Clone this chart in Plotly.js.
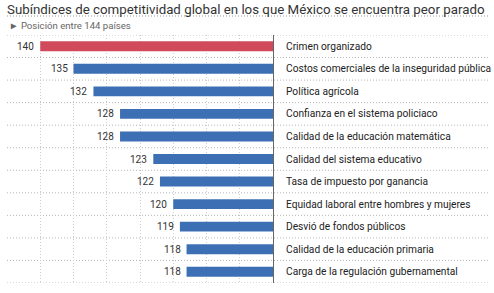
<!DOCTYPE html>
<html><head><meta charset="utf-8">
<script src="https://cdn.plot.ly/plotly-3.0.1.min.js"></script>
<style>html,body{margin:0;padding:0;background:#fff}#c{width:494px;height:293px}</style>
</head><body><div id="c"></div>
<script>
const categories = [
  "Crimen organizado",
  "Costos comerciales de la inseguridad pública",
  "Política agrícola",
  "Confianza en el sistema policiaco",
  "Calidad de la educación matemática",
  "Calidad del sistema educativo",
  "Tasa de impuesto por ganancia",
  "Equidad laboral entre hombres y mujeres",
  "Desvió de fondos públicos",
  "Calidad de la educación primaria",
  "Carga de la regulación gubernamental"
];
const positions = [140, 135, 132, 128, 128, 123, 122, 120, 119, 118, 118];
const barColors = ["#d04a5c","#3d6fb4","#3d6fb4","#3d6fb4","#3d6fb4","#3d6fb4","#3d6fb4","#3d6fb4","#3d6fb4","#3d6fb4","#3d6fb4"];
const titleText = "Subíndices de competitividad global en los que México se encuentra peor parado";
const subtitleText = "► Posición entre 144 países";

const baseVal = 105;
const FONT = "Roboto, 'Open Sans', sans-serif";
const domR = (273 - 7) / 483;

const trace = {
  type: "bar", orientation: "h",
  y: categories,
  x: positions.map(v => v - baseVal),
  base: baseVal,
  marker: {color: barColors, line: {width: 0}},
  width: 0.44,
  hoverinfo: "skip"
};

const annotations = [];
categories.forEach((c, i) => {
  annotations.push({xref: "paper", yref: "y", x: (284 - 7) / 483, y: c, text: c,
    xanchor: "left", yanchor: "middle", showarrow: false,
    font: {family: FONT, size: 10.2, color: "#222"}});
  annotations.push({xref: "x", yref: "y", x: positions[i], y: c, text: String(positions[i]),
    xanchor: "right", yanchor: "middle", showarrow: false, xshift: -4,
    font: {family: FONT, size: 10, color: "#333"}});
});
annotations.push({xref: "paper", yref: "paper", x: 0, y: 1, yshift: 10, text: subtitleText,
  xanchor: "left", yanchor: "middle", showarrow: false,
  font: {family: FONT, size: 9.6, color: "#666"}});

const shapes = [];
for (let k = 0; k <= categories.length; k++) {
  shapes.push({type: "line", xref: "paper", yref: "y", x0: 0, x1: 1, y0: k - 0.5, y1: k - 0.5,
    line: {color: "#b5b5b5", width: 1, dash: "1px,2px"}, layer: "below"});
}
// dotted rule under title
shapes.push({type: "line", xref: "paper", yref: "paper", x0: 0, x1: 1,
  y0: 1 + (35 - 16) / 248, y1: 1 + (35 - 16) / 248,
  line: {color: "#999", width: 1, dash: "1px,2px"}});

const layout = {
  width: 494, height: 293,
  margin: {l: 7, r: 4, t: 35, b: 10, pad: 0},
  paper_bgcolor: "#fff", plot_bgcolor: "#fff",
  showlegend: false,
  title: {text: titleText, x: 7/494, xanchor: "left", xref: "container", y: 1 - 9/293, yanchor: "middle", yref: "container",
    font: {family: FONT, size: 13.3, color: "#333"}},
  xaxis: {domain: [0, domR], range: [145, 105], dtick: 5, tick0: 105, showgrid: true,
    gridcolor: "#cccccc", griddash: "1px,2px", gridwidth: 1, zeroline: false, showticklabels: false,
    ticks: "", showline: false, fixedrange: true},
  yaxis: {type: "category", range: [categories.length - 0.5, -0.5], side: "right",
    showticklabels: false, ticks: "", showgrid: false, zeroline: false,
    showline: true, linecolor: "#666", linewidth: 1, fixedrange: true},
  annotations: annotations,
  shapes: shapes
};

Plotly.newPlot("c", [trace], layout, {displayModeBar: false, staticPlot: true});
</script></body></html>
